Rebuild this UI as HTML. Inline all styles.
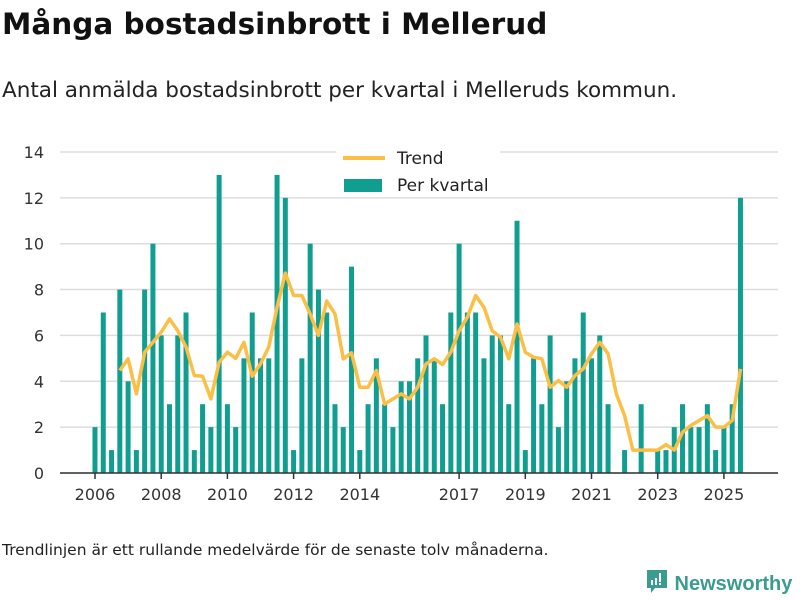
<!DOCTYPE html>
<html><head><meta charset="utf-8"><style>
body{margin:0;width:800px;height:600px;background:#fff;font-family:"DejaVu Sans","Liberation Sans",sans-serif;position:relative;overflow:hidden}
#title{position:absolute;left:2px;top:7px;font-size:29.5px;font-weight:bold;color:#111;margin:0;white-space:nowrap}
#sub{position:absolute;left:2px;top:78px;font-size:21.5px;color:#222;white-space:nowrap}
#foot{position:absolute;left:2px;top:541px;font-size:15.5px;color:#222;white-space:nowrap}
#logo{position:absolute;left:645px;top:568px;font-size:20px;font-weight:bold;color:#3a9b8f;white-space:nowrap;font-family:"Liberation Sans",sans-serif}
</style></head><body>
<h1 id="title">Många bostadsinbrott i Mellerud</h1>
<div id="sub">Antal anmälda bostadsinbrott per kvartal i Melleruds kommun.</div>
<svg id="chart" width="800" height="600" style="position:absolute;left:0;top:0"></svg>
<div id="foot">Trendlinjen är ett rullande medelvärde för de senaste tolv månaderna.</div>
<div id="logo"><svg width="24" height="28" viewBox="0 0 24 28" style="vertical-align:-6px"><path d="M2 2h20v18H10l-4 5v-5H2z" fill="#3a9b8f"/><rect x="6" y="12" width="2" height="5" fill="#fff"/><rect x="10" y="10" width="2" height="7" fill="#fff"/><rect x="14" y="5" width="2" height="9" fill="#fff"/><rect x="14" y="15" width="2" height="2" fill="#fff"/></svg> Newsworthy</div>
<script>
const startYear = 2006;
const values = [2,7,1,8,4,1,8,10,6,3,6,7,1,3,2,13,3,2,5,7,5,5,13,12,1,5,10,8,7,3,2,9,1,3,5,3,2,4,4,5,6,5,3,7,10,7,7,5,6,6,3,11,1,5,3,6,2,4,5,7,5,6,3,0,1,0,3,0,1,1,2,3,2,2,3,1,2,3,12];
const trendStart = 3;
const trend = [4.47,4.98,3.45,5.27,5.7,6.14,6.72,6.2,5.5,4.25,4.22,3.23,4.83,5.27,5.0,5.7,4.22,4.76,5.5,7.23,8.72,7.74,7.74,6.94,6.0,7.5,6.94,4.98,5.24,3.74,3.74,4.47,3.0,3.23,3.45,3.23,3.74,4.76,4.98,4.73,5.27,6.2,6.8,7.74,7.23,6.2,5.92,4.98,6.5,5.27,5.05,4.98,3.74,4.03,3.74,4.25,4.54,5.2,5.7,5.2,3.45,2.5,1.0,1.0,1.0,1.0,1.24,1.0,1.78,2.07,2.29,2.5,2.0,2.0,2.29,4.54];
const yTicks = [0,2,4,6,8,10,12,14];
const xTicks = [2006,2008,2010,2012,2014,2017,2019,2021,2023,2025];
const svg=document.getElementById('chart');const NS='http://www.w3.org/2000/svg';
function X(t){return 95+(t-2006)*33.1;}
function Y(v){return 473-v*22.93;}
function mk(tag,attrs,parent){const e=document.createElementNS(NS,tag);for(const k in attrs)e.setAttribute(k,attrs[k]);(parent||svg).appendChild(e);return e;}
yTicks.forEach(v=>{
 const g=mk('line',{x1:60,x2:778,y1:Y(v),y2:Y(v),stroke:'#ddd','stroke-width':1.5});
 
 
 const t=mk('text',{x:44,y:Y(v)+6,'text-anchor':'end','font-size':16,fill:'#333'});t.textContent=v;
 
 
});
values.forEach((v,i)=>{
 if(v<=0)return;
 const b=mk('rect',{x:X(startYear+i/4)-2.5,y:Y(v),width:5,height:Y(0)-Y(v),fill:'#109e91'});
 
 
});
const ax=mk('line',{x1:60,x2:778,y1:473,y2:473,stroke:'#333','stroke-width':1.5});


xTicks.forEach(yr=>{
 const tk=mk('line',{x1:X(yr),x2:X(yr),y1:473,y2:479,stroke:'#333','stroke-width':1.5});
 
 
 const t=mk('text',{x:X(yr),y:500,'text-anchor':'middle','font-size':16,fill:'#333'});t.textContent=yr;
 
 
});
const pts=trend.map((v,i)=>X(startYear+(i+trendStart)/4).toFixed(1)+','+Y(v).toFixed(1)).join(' ');
const line=mk('polyline',{points:pts,fill:'none',stroke:'#fbbf45','stroke-width':3.5,'stroke-linejoin':'round'});


const lg=mk('g',{});


mk('rect',{x:336,y:145,width:164,height:52,fill:'#fff'},lg);
const l1=mk('line',{x1:343,x2:385,y1:158,y2:158,stroke:'#fbbf45','stroke-width':4},lg);


const t1=mk('text',{x:397,y:164,'font-size':17,fill:'#222'},lg);t1.textContent='Trend';


const r2=mk('rect',{x:344,y:179,width:38,height:13,fill:'#109e91'},lg);


const t2=mk('text',{x:397,y:191,'font-size':17,fill:'#222'},lg);t2.textContent='Per kvartal';


</script>
</body></html>
